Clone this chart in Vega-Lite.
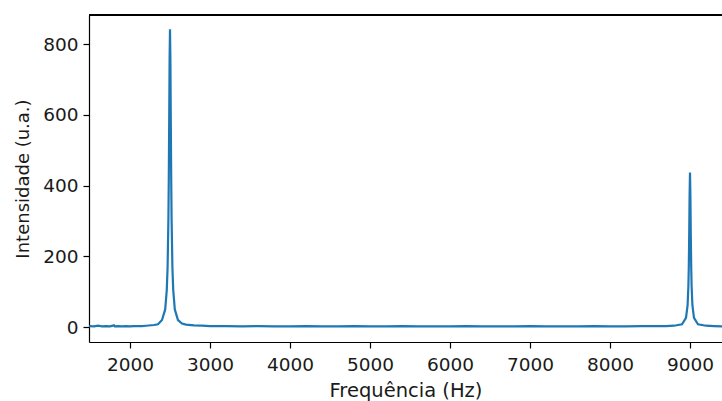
{
  "$schema": "https://vega.github.io/schema/vega-lite/v6.json",
  "width": 633,
  "height": 327,
  "autosize": {"type": "none"},
  "padding": {"left": 89, "top": 15, "right": 0, "bottom": 59},
  "background": "white",
  "config": {
    "view": {"stroke": null},
    "axis": {
      "labelFont": "DejaVu Sans",
      "titleFont": "DejaVu Sans",
      "labelFontSize": 18.5,
      "titleFontSize": 18,
      "titleFontWeight": "normal",
      "labelColor": "#1a1a1a",
      "titleColor": "#1a1a1a",
      "domainColor": "#000000",
      "tickColor": "#000000",
      "domainWidth": 1.2,
      "tickWidth": 1.2,
      "tickSize": 6,
      "labelPadding": 5,
      "grid": false
    }
  },
  "data": {
    "values": [
      {"f": 1490, "i": 3}, {"f": 1550, "i": 2}, {"f": 1600, "i": 4}, {"f": 1650, "i": 2},
      {"f": 1700, "i": 3}, {"f": 1750, "i": 2}, {"f": 1800, "i": 5}, {"f": 1810, "i": 2},
      {"f": 1850, "i": 3}, {"f": 1900, "i": 2}, {"f": 1950, "i": 3}, {"f": 2000, "i": 2},
      {"f": 2050, "i": 3}, {"f": 2100, "i": 3}, {"f": 2150, "i": 3}, {"f": 2200, "i": 4},
      {"f": 2300, "i": 6}, {"f": 2350, "i": 8}, {"f": 2400, "i": 20}, {"f": 2440, "i": 50},
      {"f": 2460, "i": 106}, {"f": 2470, "i": 170}, {"f": 2480, "i": 304}, {"f": 2485, "i": 422},
      {"f": 2490, "i": 583}, {"f": 2495, "i": 758}, {"f": 2500, "i": 842}, {"f": 2505, "i": 758},
      {"f": 2510, "i": 583}, {"f": 2515, "i": 422}, {"f": 2520, "i": 304}, {"f": 2530, "i": 170},
      {"f": 2540, "i": 106}, {"f": 2560, "i": 50}, {"f": 2600, "i": 20}, {"f": 2650, "i": 10},
      {"f": 2700, "i": 7}, {"f": 2800, "i": 5}, {"f": 2900, "i": 4}, {"f": 3000, "i": 3},
      {"f": 3200, "i": 3}, {"f": 3400, "i": 2}, {"f": 3600, "i": 3}, {"f": 3800, "i": 2},
      {"f": 4000, "i": 2}, {"f": 4200, "i": 3}, {"f": 4400, "i": 2}, {"f": 4600, "i": 2},
      {"f": 4800, "i": 3}, {"f": 5000, "i": 2}, {"f": 5200, "i": 2}, {"f": 5400, "i": 3},
      {"f": 5600, "i": 2}, {"f": 5800, "i": 2}, {"f": 6000, "i": 2}, {"f": 6200, "i": 3},
      {"f": 6400, "i": 2}, {"f": 6600, "i": 2}, {"f": 6800, "i": 2}, {"f": 7000, "i": 3},
      {"f": 7200, "i": 2}, {"f": 7400, "i": 2}, {"f": 7600, "i": 2}, {"f": 7800, "i": 3},
      {"f": 8000, "i": 2}, {"f": 8200, "i": 2}, {"f": 8400, "i": 3}, {"f": 8600, "i": 3},
      {"f": 8700, "i": 3}, {"f": 8800, "i": 4}, {"f": 8900, "i": 8}, {"f": 8950, "i": 26},
      {"f": 8970, "i": 62}, {"f": 8980, "i": 117}, {"f": 8985, "i": 172}, {"f": 8990, "i": 259},
      {"f": 8995, "i": 373}, {"f": 9000, "i": 437}, {"f": 9005, "i": 373}, {"f": 9010, "i": 259},
      {"f": 9015, "i": 172}, {"f": 9020, "i": 117}, {"f": 9030, "i": 62}, {"f": 9050, "i": 26},
      {"f": 9100, "i": 8}, {"f": 9200, "i": 4}, {"f": 9300, "i": 3}, {"f": 9400, "i": 2}
    ]
  },
  "layer": [
    {
      "mark": {"type": "line", "color": "#1f77b4", "strokeWidth": 2.2, "clip": true},
      "encoding": {
        "x": {
          "field": "f", "type": "quantitative",
          "scale": {"domain": [1487.5, 9400], "nice": false, "zero": false},
          "axis": {"values": [2000, 3000, 4000, 5000, 6000, 7000, 8000, 9000], "title": "Frequência (Hz)", "format": "d", "labelPadding": 7, "titleFontSize": 19.5, "titlePadding": 8}
        },
        "y": {
          "field": "i", "type": "quantitative",
          "scale": {"domain": [-42, 882], "nice": false, "zero": false},
          "axis": {"values": [0, 200, 400, 600, 800], "title": "Intensidade (u.a.)", "format": "d", "titlePadding": 10}
        }
      }
    },
    {
      "mark": {"type": "rule", "color": "#000000", "strokeWidth": 1.2},
      "encoding": {"y": {"datum": 882}}
    }
  ]
}
